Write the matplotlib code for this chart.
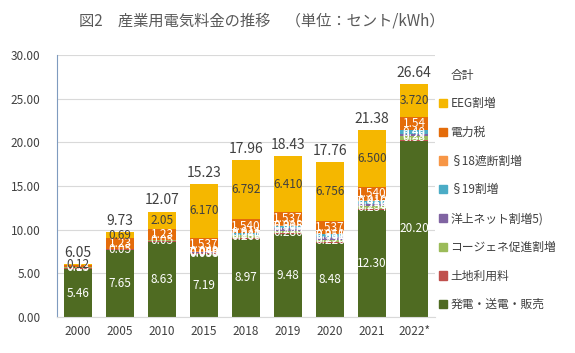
import matplotlib
matplotlib.use("Agg")
import matplotlib.pyplot as plt
import numpy as np
from matplotlib.patches import Patch
from matplotlib.lines import Line2D

plt.rcParams['font.family'] = ['Noto Sans CJK JP', 'DejaVu Sans']

# data (cents/kWh)
years = ["2000", "2005", "2010", "2015", "2018", "2019", "2020", "2021", "2022*"]
totals = [6.05, 9.73, 12.07, 15.23, 17.96, 18.43, 17.76, 21.38, 26.64]

gen = [5.46, 7.65, 8.63, 7.19, 8.97, 9.48, 8.48, 12.30, 20.20]
land = [0.11, 0.11, 0.11, 0.11, 0.11, 0.11, 0.11, 0.11, 0.11]
chp = [0.13, 0.05, 0.05, 0.038, 0.26, 0.28, 0.226, 0.254, 0.38]
offshore = [0, 0, 0, 0.05, 0.037, 0.29, 0.29, 0.25, 0.29]
sec19 = [0, 0, 0, 0.086, 0.24, 0.305, 0.351, 0.416, 0.40]
sec18 = [0, 0, 0, 0.049, 0.011, 0.018, 0.010, 0.010, 0.0]
tax = [0.23, 1.23, 1.23, 1.537, 1.540, 1.537, 1.537, 1.540, 1.54]
eeg = [0.12, 0.69, 2.05, 6.170, 6.792, 6.410, 6.756, 6.500, 3.720]

decimals = [2, 2, 2, 3, 3, 3, 3, 3, 2]

series = [
    ("発電・送電・販売", gen, "#4F6B22"),
    ("土地利用料", land, "#C0504D"),
    ("コージェネ促進割増", chp, "#9BBB59"),
    ("洋上ネット割増5)", offshore, "#8064A2"),
    ("§19割増", sec19, "#4BACC6"),
    ("§18遮断割増", sec18, "#F79646"),
    ("電力税", tax, "#E46C0A"),
    ("EEG割増", eeg, "#F5B700"),
]

txt = "#404040"
fig = plt.figure(figsize=(5.75, 3.53), dpi=100)
ax = fig.add_axes([57 / 575, 36 / 353, 378 / 575, 262 / 353])

x = np.arange(len(years))
bottom = np.zeros(len(years))
handles = []
for name, vals, col in series:
    vals = np.array(vals, dtype=float)
    ax.bar(x, vals, 0.69, bottom=bottom, color=col, zorder=2)
    for i, v in enumerate(vals):
        if v <= 0 or name == "土地利用料":
            continue
        if name == "発電・送電・販売":
            s = "%.2f" % v
        elif name == "EEG割増" and i == 8:
            s = "%.3f" % v
        else:
            s = "%.*f" % (decimals[i], v)
        c = txt if name == "EEG割増" else "white"
        ax.text(x[i], bottom[i] + v / 2, s, ha="center", va="center",
                fontsize=8.5, color=c, zorder=3)
    bottom += vals
    handles.append(Patch(color=col, label=name))

for i, t in enumerate(totals):
    ax.text(x[i], bottom[i] + 0.5, "%.2f" % t, ha="center", va="bottom",
            fontsize=10, color=txt)

ax.set_xlim(-0.5, len(years) - 0.5)
ax.set_ylim(0, 30)
ax.set_yticks(np.arange(0, 31, 5))
ax.set_yticklabels(["%.2f" % v for v in np.arange(0, 31, 5)])
ax.set_xticks(x)
ax.set_xticklabels(years)
ax.tick_params(length=0, labelsize=8.5, colors=txt)
ax.tick_params(axis="x", pad=6)
ax.tick_params(axis="y", pad=12)
ax.grid(axis="y", color="#D9D9D9", linewidth=0.8, zorder=0)
for s in ["top", "right"]:
    ax.spines[s].set_visible(False)
ax.spines["left"].set_color("#7F9BBF")
ax.spines["bottom"].set_color("#D9D9D9")

handles = handles[::-1]
handles.insert(0, Line2D([], [], linestyle="none", label="合計"))
leg = fig.legend(handles=handles, loc="upper left", bbox_to_anchor=(428 / 575, 1 - 58 / 353),
                 frameon=False, fontsize=8.5, handlelength=0.7, handleheight=0.7,
                 handletextpad=0.3, labelspacing=1.33, labelcolor=txt)

fig.text(0.455, 0.94, "図2　産業用電気料金の推移　（単位：セント/kWh）",
         ha="center", va="center", fontsize=11, color="#595959")

fig.savefig("out.png", dpi=100)
